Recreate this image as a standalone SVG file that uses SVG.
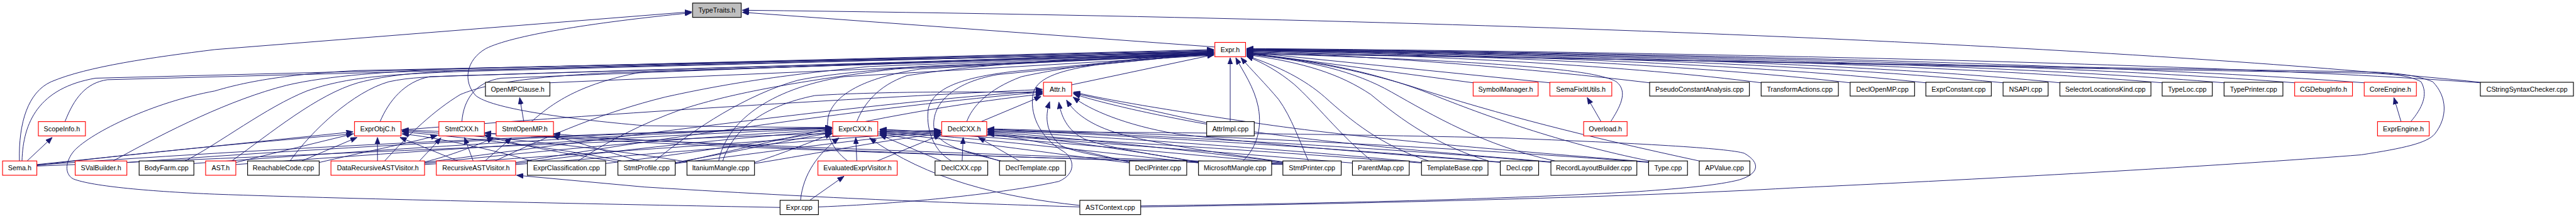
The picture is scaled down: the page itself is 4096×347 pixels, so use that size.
<svg xmlns="http://www.w3.org/2000/svg" width="4096" height="347" viewBox="0 0 4096 347">
<style>
.n rect{fill:#fff;stroke-width:1.4}
.r rect{stroke:#ff0000}
.b rect{stroke:#000}
.g rect{fill:#bfbfbf;stroke:#000}
text{font-family:"Liberation Sans",Arial,sans-serif;font-size:13.3px;text-anchor:middle;fill:#000}
#edges path{fill:none;stroke:#191970;stroke-width:1.2;marker-end:url(#a)}
</style>
<defs>
<marker id="a" markerWidth="14" markerHeight="10" refX="13" refY="5" orient="auto" markerUnits="userSpaceOnUse"><path d="M0,0 L13,5 L0,10 z" fill="#191970" stroke="#191970" stroke-width="1"/></marker>
</defs>
<rect width="4096" height="347" fill="#fff"/>
<g transform="scale(0.81334)">
<g id="edges">
<path d="M38,315 C36,240 55,180 100,160 C170,130 300,112 420,97 L1352,23"/>
<path d="M1626,250 L1260,246 C1100,232 960,212 930,187 C905,160 910,118 950,95 C1000,70 1150,45 1352,25"/>
<path d="M2375,92 L1451,24"/>
<path d="M4849,161 C4300,105 3200,40 1451,20"/>
<path d="M43,315 C45,240 75,172 187,153 L2373,97"/>
<path d="M127,238 C145,192 168,162 210,156 L2373,98"/>
<path d="M221,315 C330,255 450,195 560,167 C640,148 760,140 900,134 L2373,100"/>
<path d="M362,315 C430,280 520,210 600,178 C680,150 760,146 900,140 L2373,101"/>
<path d="M453,315 C530,260 620,185 700,162 C760,146 820,142 900,138 L2373,102"/>
<path d="M567,315 C610,255 690,180 760,160 C800,151 850,150 900,148 L2373,103"/>
<path d="M743,238 C760,198 790,160 840,150 L2373,104"/>
<path d="M903,238 C906,195 930,160 980,153 L2373,99"/>
<path d="M1039,238 C1085,197 1140,162 1260,140 L2373,105"/>
<path d="M1075,162 L2373,106"/>
<path d="M752,315 C800,262 850,215 900,185 C960,160 1050,150 1200,142 L2373,105"/>
<path d="M968,315 C1080,262 1180,220 1300,190 C1400,168 1500,150 1700,130 L2373,106"/>
<path d="M1280,315 C1360,250 1460,185 1560,157 C1620,145 1700,138 1800,130 L2373,107"/>
<path d="M1405,315 C1420,240 1500,175 1650,150 L2373,108"/>
<path d="M1130,315 C1190,275 1260,240 1330,215 C1420,185 1550,160 1750,135 L2373,107"/>
<path d="M1675,238 C1688,205 1715,168 1773,148 C1900,128 2100,112 2373,105"/>
<path d="M1657,315 C1625,290 1612,260 1620,225 C1635,180 1700,150 1800,135 L2373,104"/>
<path d="M1600,405 C1800,397 1980,375 2070,355 C2105,340 2100,310 2080,297 C2030,268 2012,220 2020,182 C2028,150 2080,136 2150,126 L2373,104"/>
<path d="M1525,406 C1200,400 700,390 420,380 C300,375 180,365 143,350 C125,340 128,315 145,295 C180,258 300,200 420,178 C480,160 560,145 700,138 L2373,103"/>
<path d="M1890,238 C1900,210 1930,175 1997,150 C2080,132 2200,115 2373,102"/>
<path d="M1860,315 C1820,292 1810,245 1815,212 C1825,172 1880,152 1980,140 L2373,103"/>
<path d="M1957,315 C1895,300 1832,285 1826,252 C1820,205 1860,162 1950,146 L2373,104"/>
<path d="M2095,166 L2373,107"/>
<path d="M2405,238 L2405,113"/>
<path d="M2430,315 C2455,290 2468,255 2460,210 C2452,170 2430,140 2416,113"/>
<path d="M2558,315 C2540,275 2525,230 2500,195 C2475,165 2445,135 2426,113"/>
<path d="M2682,315 C2620,265 2570,200 2530,165 C2500,140 2470,123 2437,110"/>
<path d="M2793,315 C2700,285 2640,235 2590,190 C2550,155 2500,130 2437,109"/>
<path d="M2910,315 C2810,285 2740,235 2680,185 C2620,145 2550,122 2437,107"/>
<path d="M3040,315 C2900,285 2800,225 2720,180 C2650,140 2560,118 2437,106"/>
<path d="M3225,315 C3050,280 2900,225 2800,185 C2700,145 2580,118 2437,105"/>
<path d="M3322,315 C3100,267 2940,227 2753,167 C2620,127 2520,115 2437,104"/>
<path d="M2880,162 L2437,103"/>
<path d="M3030,162 L2437,102"/>
<path d="M3225,162 C3000,135 2700,110 2437,101"/>
<path d="M3443,162 C3200,130 2800,108 2437,100"/>
<path d="M3617,162 C3300,125 2800,105 2437,99"/>
<path d="M3765,162 C3400,122 2800,104 2437,99"/>
<path d="M3916,162 C3500,120 2800,103 2437,98"/>
<path d="M4027,162 C3600,118 2800,102 2437,98"/>
<path d="M4227,162 C3700,118 2800,101 2437,97"/>
<path d="M4348,162 C3800,117 2800,100 2437,97"/>
<path d="M4486,162 C3900,116 2800,99 2437,96"/>
<path d="M4622,162 C4000,115 2800,98 2437,96"/>
<path d="M4849,162 C4200,114 2800,97 2437,95"/>
<path d="M3149,238 C3165,212 3185,180 3160,160 C3125,140 3000,122 2437,104"/>
<path d="M4713,238 C4735,212 4748,185 4733,160 C4710,147 4670,144 4616,143 C3800,130 2900,110 2437,103"/>
<path d="M2230,405 C2700,398 3200,385 3500,368 C4000,345 4400,320 4616,303 C4700,290 4745,280 4760,262 C4785,230 4785,190 4756,160 C4720,145 4670,141 4600,140 C3800,128 2900,110 2437,106"/>
<path d="M53,315 L102,269"/>
<path d="M3130,238 L3103,191"/>
<path d="M1024,238 L1016,191"/>
<path d="M4694,238 L4680,191"/>
<path d="M738,315 L738,269"/>
<path d="M1675,315 L1673,269"/>
<path d="M1881,315 L1883,269"/>
<path d="M1993,315 L1913,269"/>
<path d="M925,315 L908,269"/>
<path d="M948,315 L1000,270"/>
<path d="M895,315 L782,269"/>
<path d="M590,315 L698,269"/>
<path d="M461,318 L690,262"/>
<path d="M72,322 L690,258"/>
<path d="M1918,238 L2035,189"/>
<path d="M2358,240 L2098,182"/>
<path d="M1565,392 C1570,340 1600,300 1640,270"/>
<path d="M1583,392 L1650,345"/>
<path d="M2111,402 C1950,385 1813,350 1700,270"/>
<path d="M2111,405 C1900,398 1680,392 1260,366 L1010,343"/>
<path d="M2230,403 C2600,398 2940,390 3200,375 C3300,368 3360,362 3400,352 C3440,340 3442,318 3410,300 C3380,290 3200,280 2940,270 C2600,262 2200,258 1931,258"/>
<path d="M72,324 C500,270 1300,210 2038,175"/>
<path d="M830,318 C1200,270 1700,200 2038,178"/>
<path d="M1008,318 C1300,270 1700,210 2038,180"/>
<path d="M1413,315 C1433,253 1493,207 1593,187 C1700,180 1900,178 2038,182"/>
<path d="M1320,320 C1500,280 1750,215 2038,184"/>
<path d="M2210,317 C2150,305 2100,298 2075,285 C2045,262 2042,230 2052,199"/>
<path d="M2345,317 C2250,302 2160,288 2120,272 C2085,255 2074,225 2070,200"/>
<path d="M2510,317 C2400,302 2260,282 2190,262 C2130,245 2100,220 2085,196"/>
<path d="M2935,317 C2700,302 2450,280 2300,262 C2200,245 2130,215 2098,190"/>
<path d="M3035,317 C2800,298 2550,275 2400,250 C2250,225 2150,200 2099,184"/>
<path d="M3225,317 C2950,295 2650,270 2450,240 C2280,215 2160,195 2099,180"/>
<path d="M2210,318 C2120,295 2000,270 1931,262"/>
<path d="M2345,318 C2200,292 2030,268 1931,260"/>
<path d="M2510,318 C2300,290 2050,266 1931,258"/>
<path d="M2780,318 C2500,290 2100,265 1931,256"/>
<path d="M2935,318 C2600,288 2150,262 1931,254"/>
<path d="M3035,318 C2700,288 2200,262 1931,253"/>
<path d="M3225,318 C2800,285 2250,260 1931,252"/>
<path d="M1840,315 L1720,264"/>
<path d="M1957,316 C1880,290 1780,270 1720,262"/>
<path d="M2210,319 C2050,300 1850,270 1720,260"/>
<path d="M2345,319 C2150,298 1900,268 1720,258"/>
<path d="M2510,319 C2250,296 1950,266 1720,256"/>
<path d="M2780,319 C2450,294 2000,264 1720,254"/>
<path d="M2644,319 C2350,295 1980,265 1720,253"/>
<path d="M461,322 C900,290 1300,262 1626,252"/>
<path d="M830,320 C1100,290 1400,265 1626,254"/>
<path d="M1008,320 C1200,295 1450,268 1626,256"/>
<path d="M1184,320 C1350,300 1500,275 1626,258"/>
<path d="M1320,318 C1450,295 1550,272 1626,260"/>
<path d="M1475,318 C1530,300 1580,280 1626,262"/>
<path d="M72,323 C600,285 1200,258 1626,250"/>
<path d="M379,320 C800,288 1300,258 1626,249"/>
<path d="M248,318 C700,285 1200,258 1626,251"/>
<path d="M1715,315 L1839,264"/>
<path d="M1475,320 C1600,300 1750,270 1839,262"/>
<path d="M1320,320 C1500,298 1700,268 1839,260"/>
<path d="M1008,322 C1300,300 1650,268 1839,258"/>
<path d="M830,322 C1200,298 1600,266 1839,256"/>
<path d="M72,325 C700,300 1400,265 1839,255"/>
<path d="M1215,315 C1100,290 900,268 786,258"/>
<path d="M1040,315 C950,290 850,268 786,262"/>
<path d="M2510,320 C1800,300 1100,268 786,254"/>
<path d="M1350,318 C1200,292 950,265 786,256"/>
<path d="M820,315 L862,270"/>
<path d="M1215,318 C1100,300 990,280 947,264"/>
<path d="M2510,321 C1800,305 1200,280 947,260"/>
<path d="M624,318 C700,300 800,280 855,265"/>
<path d="M830,317 C880,305 930,285 965,270"/>
<path d="M2510,322 C1800,305 1300,280 1082,262"/>
<path d="M1250,315 C1180,295 1120,275 1080,266"/>
</g>
<g id="TypeTraits_h" class="n g"><rect x="1354" y="6" width="95" height="28"/><text x="1401.5" y="24.6">TypeTraits.h</text></g>
<g id="Expr_h" class="n r"><rect x="2375" y="83" width="60" height="28"/><text x="2405" y="101.6">Expr.h</text></g>
<g id="OpenMPClause_h" class="n b"><rect x="949" y="161" width="126" height="27"/><text x="1012" y="179">OpenMPClause.h</text></g>
<g id="Attr_h" class="n r"><rect x="2040" y="161" width="55" height="27"/><text x="2067.5" y="179">Attr.h</text></g>
<g id="SymbolManager_h" class="n r"><rect x="2880" y="161" width="127" height="27"/><text x="2943.5" y="179">SymbolManager.h</text></g>
<g id="SemaFixItUtils_h" class="n r"><rect x="3030" y="161" width="121" height="27"/><text x="3090.5" y="179">SemaFixItUtils.h</text></g>
<g id="PseudoConstantAnalysis_cpp" class="n b"><rect x="3225" y="161" width="195" height="27"/><text x="3322.5" y="179">PseudoConstantAnalysis.cpp</text></g>
<g id="TransformActions_cpp" class="n b"><rect x="3443" y="161" width="151" height="27"/><text x="3518.5" y="179">TransformActions.cpp</text></g>
<g id="DeclOpenMP_cpp" class="n b"><rect x="3617" y="161" width="126" height="27"/><text x="3680" y="179">DeclOpenMP.cpp</text></g>
<g id="ExprConstant_cpp" class="n b"><rect x="3765" y="161" width="128" height="27"/><text x="3829" y="179">ExprConstant.cpp</text></g>
<g id="NSAPI_cpp" class="n b"><rect x="3916" y="161" width="88" height="27"/><text x="3960" y="179">NSAPI.cpp</text></g>
<g id="SelectorLocationsKind_cpp" class="n b"><rect x="4027" y="161" width="178" height="27"/><text x="4116" y="179">SelectorLocationsKind.cpp</text></g>
<g id="TypeLoc_cpp" class="n b"><rect x="4227" y="161" width="98" height="27"/><text x="4276" y="179">TypeLoc.cpp</text></g>
<g id="TypePrinter_cpp" class="n b"><rect x="4348" y="161" width="115" height="27"/><text x="4405.5" y="179">TypePrinter.cpp</text></g>
<g id="CGDebugInfo_h" class="n r"><rect x="4486" y="161" width="113" height="27"/><text x="4542.5" y="179">CGDebugInfo.h</text></g>
<g id="CoreEngine_h" class="n r"><rect x="4622" y="161" width="102" height="27"/><text x="4673" y="179">CoreEngine.h</text></g>
<g id="CStringSyntaxChecker_cpp" class="n b"><rect x="4849" y="161" width="182" height="27"/><text x="4940" y="179">CStringSyntaxChecker.cpp</text></g>
<g id="ScopeInfo_h" class="n r"><rect x="75" y="238" width="92" height="28"/><text x="121" y="256.6">ScopeInfo.h</text></g>
<g id="ExprObjC_h" class="n r"><rect x="693" y="238" width="91" height="28"/><text x="738.5" y="256.6">ExprObjC.h</text></g>
<g id="StmtCXX_h" class="n r"><rect x="858" y="238" width="89" height="28"/><text x="902.5" y="256.6">StmtCXX.h</text></g>
<g id="StmtOpenMP_h" class="n r"><rect x="970" y="238" width="112" height="28"/><text x="1026" y="256.6">StmtOpenMP.h</text></g>
<g id="ExprCXX_h" class="n r"><rect x="1628" y="238" width="88" height="28"/><text x="1672" y="256.6">ExprCXX.h</text></g>
<g id="DeclCXX_h" class="n r"><rect x="1841" y="238" width="88" height="28"/><text x="1885" y="256.6">DeclCXX.h</text></g>
<g id="AttrImpl_cpp" class="n b"><rect x="2359" y="238" width="93" height="28"/><text x="2405.5" y="256.6">AttrImpl.cpp</text></g>
<g id="Overload_h" class="n r"><rect x="3096" y="238" width="85" height="28"/><text x="3138.5" y="256.6">Overload.h</text></g>
<g id="ExprEngine_h" class="n r"><rect x="4648" y="238" width="101" height="28"/><text x="4698.5" y="256.6">ExprEngine.h</text></g>
<g id="Sema_h" class="n r"><rect x="5" y="315" width="67" height="28"/><text x="38.5" y="333.6">Sema.h</text></g>
<g id="SValBuilder_h" class="n r"><rect x="147" y="315" width="101" height="28"/><text x="197.5" y="333.6">SValBuilder.h</text></g>
<g id="BodyFarm_cpp" class="n b"><rect x="272" y="315" width="107" height="28"/><text x="325.5" y="333.6">BodyFarm.cpp</text></g>
<g id="AST_h" class="n r"><rect x="402" y="315" width="59" height="28"/><text x="431.5" y="333.6">AST.h</text></g>
<g id="ReachableCode_cpp" class="n b"><rect x="484" y="315" width="140" height="28"/><text x="554" y="333.6">ReachableCode.cpp</text></g>
<g id="DataRecursiveASTVisitor_h" class="n r"><rect x="647" y="315" width="183" height="28"/><text x="738.5" y="333.6">DataRecursiveASTVisitor.h</text></g>
<g id="RecursiveASTVisitor_h" class="n r"><rect x="853" y="315" width="155" height="28"/><text x="930.5" y="333.6">RecursiveASTVisitor.h</text></g>
<g id="ExprClassification_cpp" class="n b"><rect x="1031" y="315" width="153" height="28"/><text x="1107.5" y="333.6">ExprClassification.cpp</text></g>
<g id="StmtProfile_cpp" class="n b"><rect x="1208" y="315" width="112" height="28"/><text x="1264" y="333.6">StmtProfile.cpp</text></g>
<g id="ItaniumMangle_cpp" class="n b"><rect x="1343" y="315" width="132" height="28"/><text x="1409" y="333.6">ItaniumMangle.cpp</text></g>
<g id="EvaluatedExprVisitor_h" class="n r"><rect x="1599" y="315" width="155" height="28"/><text x="1676.5" y="333.6">EvaluatedExprVisitor.h</text></g>
<g id="DeclCXX_cpp" class="n b"><rect x="1828" y="315" width="103" height="28"/><text x="1879.5" y="333.6">DeclCXX.cpp</text></g>
<g id="DeclTemplate_cpp" class="n b"><rect x="1954" y="315" width="129" height="28"/><text x="2018.5" y="333.6">DeclTemplate.cpp</text></g>
<g id="DeclPrinter_cpp" class="n b"><rect x="2208" y="315" width="112" height="28"/><text x="2264" y="333.6">DeclPrinter.cpp</text></g>
<g id="MicrosoftMangle_cpp" class="n b"><rect x="2343" y="315" width="143" height="28"/><text x="2414.5" y="333.6">MicrosoftMangle.cpp</text></g>
<g id="StmtPrinter_cpp" class="n b"><rect x="2508" y="315" width="114" height="28"/><text x="2565" y="333.6">StmtPrinter.cpp</text></g>
<g id="ParentMap_cpp" class="n b"><rect x="2644" y="315" width="111" height="28"/><text x="2699.5" y="333.6">ParentMap.cpp</text></g>
<g id="TemplateBase_cpp" class="n b"><rect x="2779" y="315" width="130" height="28"/><text x="2844" y="333.6">TemplateBase.cpp</text></g>
<g id="Decl_cpp" class="n b"><rect x="2933" y="315" width="75" height="28"/><text x="2970.5" y="333.6">Decl.cpp</text></g>
<g id="RecordLayoutBuilder_cpp" class="n b"><rect x="3032" y="315" width="168" height="28"/><text x="3116" y="333.6">RecordLayoutBuilder.cpp</text></g>
<g id="Type_cpp" class="n b"><rect x="3223" y="315" width="76" height="28"/><text x="3261" y="333.6">Type.cpp</text></g>
<g id="APValue_cpp" class="n b"><rect x="3322" y="315" width="99" height="28"/><text x="3371.5" y="333.6">APValue.cpp</text></g>
<g id="Expr_cpp" class="n b"><rect x="1525" y="392" width="75" height="28"/><text x="1562.5" y="410.6">Expr.cpp</text></g>
<g id="ASTContext_cpp" class="n b"><rect x="2111" y="392" width="119" height="28"/><text x="2170.5" y="410.6">ASTContext.cpp</text></g>
</g>
</svg>
